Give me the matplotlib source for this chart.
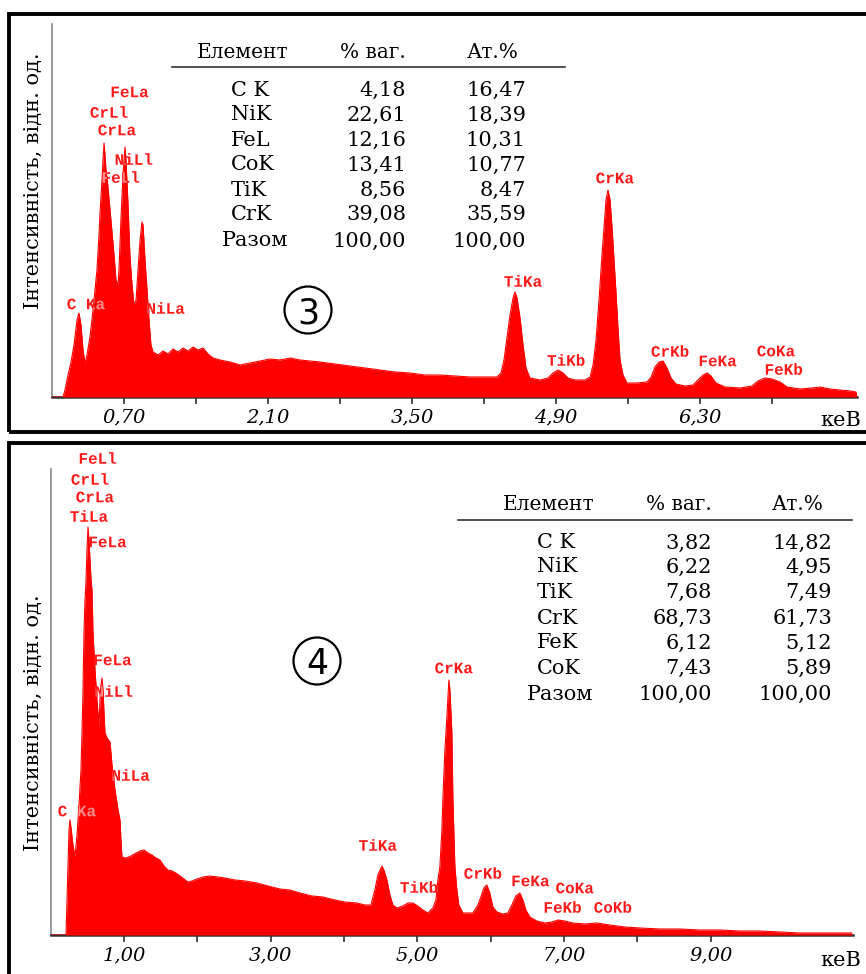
import matplotlib.pyplot as plt
from matplotlib.patches import Rectangle, Circle, PathPatch
from matplotlib.textpath import TextPath
from matplotlib.font_manager import FontProperties
from matplotlib.transforms import Affine2D, IdentityTransform

# spectrum 3: energy (keV) and intensity (arb. units)
energy3 = [0.000, 0.107, 0.126, 0.156, 0.185, 0.214, 0.243, 0.262, 0.282, 0.301,
           0.321, 0.340, 0.369, 0.399, 0.418, 0.437, 0.457, 0.467, 0.486, 0.496,
           0.506, 0.515, 0.525, 0.544, 0.564, 0.583, 0.603, 0.622, 0.642, 0.651,
           0.670, 0.690, 0.710, 0.719, 0.739, 0.758, 0.778, 0.797, 0.817, 0.836,
           0.856, 0.875, 0.885, 0.904, 0.924, 0.943, 0.962, 0.982, 1.031, 1.079,
           1.128, 1.176, 1.225, 1.274, 1.322, 1.371, 1.419, 1.468, 1.517, 1.565,
           1.633, 1.731, 1.828, 1.925, 2.022, 2.119, 2.217, 2.314, 2.411, 2.508,
           2.605, 2.751, 2.897, 3.043, 3.189, 3.335, 3.480, 3.626, 3.772, 3.918,
           4.064, 4.210, 4.326, 4.365, 4.394, 4.423, 4.453, 4.482, 4.501, 4.521,
           4.550, 4.579, 4.608, 4.647, 4.744, 4.822, 4.870, 4.919, 4.968, 5.016,
           5.085, 5.182, 5.231, 5.260, 5.289, 5.318, 5.347, 5.367, 5.386, 5.405,
           5.425, 5.444, 5.464, 5.483, 5.503, 5.522, 5.551, 5.590, 5.688, 5.785,
           5.824, 5.862, 5.901, 5.940, 5.979, 6.018, 6.066, 6.154, 6.232, 6.280,
           6.329, 6.368, 6.407, 6.455, 6.543, 6.689, 6.805, 6.864, 6.932, 7.000,
           7.078, 7.146, 7.272, 7.389, 7.467, 7.564, 7.661, 7.758, 7.816, 7.826]
counts3 = [0, 0, 7, 22, 35, 52, 77, 84, 72, 47,
           34, 42, 60, 87, 107, 127, 162, 184, 217, 237,
           254, 242, 227, 210, 187, 165, 142, 117, 112, 127,
           177, 222, 250, 237, 192, 140, 112, 92, 97, 127,
           157, 175, 172, 137, 107, 77, 52, 45, 42, 46,
           43, 48, 45, 49, 46, 50, 47, 49, 43, 39,
           37, 35, 32, 34, 36, 38, 37, 39, 37, 36,
           35, 33, 31, 29, 27, 25, 24, 22, 22, 21,
           20, 20, 20, 24, 37, 59, 82, 99, 105, 99,
           79, 52, 29, 19, 17, 19, 24, 27, 24, 19,
           17, 17, 20, 32, 57, 97, 142, 170, 197, 207,
           197, 170, 137, 104, 67, 37, 22, 14, 14, 15,
           20, 30, 35, 36, 29, 19, 13, 11, 12, 17,
           22, 24, 21, 14, 10, 9, 11, 16, 19, 18,
           15, 10, 8, 9, 10, 8, 7, 6, 5, 0]

# spectrum 4
energy4 = [0.005, 0.210, 0.224, 0.237, 0.251, 0.264, 0.278, 0.305, 0.332, 0.360,
           0.387, 0.414, 0.428, 0.442, 0.455, 0.469, 0.482, 0.496, 0.510, 0.523,
           0.537, 0.551, 0.564, 0.578, 0.605, 0.632, 0.660, 0.673, 0.687, 0.701,
           0.714, 0.741, 0.769, 0.810, 0.837, 0.878, 0.919, 0.946, 0.959, 0.973,
           1.028, 1.096, 1.164, 1.218, 1.273, 1.327, 1.382, 1.436, 1.491, 1.546,
           1.600, 1.655, 1.709, 1.764, 1.818, 1.873, 1.927, 1.995, 2.077, 2.172,
           2.281, 2.377, 2.513, 2.649, 2.813, 2.963, 3.126, 3.263, 3.399, 3.563,
           3.713, 3.876, 4.012, 4.176, 4.285, 4.367, 4.421, 4.462, 4.517, 4.544,
           4.585, 4.626, 4.667, 4.721, 4.803, 4.871, 4.939, 5.007, 5.075, 5.144,
           5.212, 5.253, 5.280, 5.307, 5.335, 5.348, 5.376, 5.403, 5.430, 5.444,
           5.471, 5.485, 5.512, 5.539, 5.566, 5.621, 5.757, 5.825, 5.866, 5.907,
           5.948, 5.989, 6.030, 6.085, 6.166, 6.234, 6.289, 6.343, 6.398, 6.439,
           6.480, 6.534, 6.630, 6.739, 6.834, 6.916, 7.011, 7.120, 7.283, 7.447,
           7.624, 7.828, 8.033, 8.306, 8.578, 8.851, 9.123, 9.396, 9.668, 9.941,
           10.213, 10.622, 10.922]
counts4 = [0, 0, 35, 68, 105, 115, 107, 90, 78, 100,
           130, 165, 202, 245, 302, 335, 352, 385, 408, 395,
           375, 355, 345, 302, 265, 235, 208, 235, 250, 257,
           245, 202, 197, 193, 170, 145, 125, 115, 95, 78,
           77, 79, 82, 84, 85, 82, 80, 77, 75, 69,
           65, 64, 62, 59, 56, 53, 54, 56, 58, 59,
           58, 57, 55, 54, 52, 49, 46, 45, 42, 39,
           38, 35, 33, 32, 30, 30, 45, 60, 69, 65,
           55, 40, 30, 27, 29, 32, 32, 29, 25, 22,
           27, 35, 55, 68, 105, 135, 185, 218, 255, 245,
           202, 135, 68, 45, 30, 22, 22, 30, 38, 47,
           50, 42, 28, 23, 21, 22, 30, 39, 42, 35,
           25, 18, 14, 12, 13, 15, 14, 12, 11, 12,
           10, 8, 7, 6, 6, 5, 5, 4, 4, 3,
           2, 2, 2]

# line markers: (text, keV, intensity)
peaks3 = [('FeLa', 0.758, 305), ('CrLl', 0.554, 285), ('CrLa', 0.632, 267),
          ('NiLl', 0.797, 238), ('FeLl', 0.671, 220), ('C Ka', 0.331, 93),
          ('NiLa', 1.108, 89), ('TiKa', 4.579, 116), ('TiKb', 4.997, 37),
          ('CrKa', 5.473, 219), ('CrKb', 6.008, 46), ('FeKa', 6.475, 36),
          ('CoKa', 7.039, 46), ('FeKb', 7.116, 28)]
peaks4 = [('FeLl', 0.646, 477), ('CrLl', 0.537, 456), ('CrLa', 0.605, 438),
          ('TiLa', 0.523, 419), ('FeLa', 0.782, 393), ('FeLa', 0.850, 275),
          ('NiLl', 0.864, 244), ('NiLa', 1.096, 160), ('C Ka', 0.360, 124),
          ('TiKa', 4.462, 90), ('TiKb', 5.021, 48), ('CrKa', 5.498, 267),
          ('CrKb', 5.893, 62), ('FeKa', 6.547, 54), ('CoKa', 7.147, 47),
          ('FeKb', 6.984, 28), ('CoKb', 7.665, 28)]

ticks3 = [0.70, 1.40, 2.10, 2.80, 3.50, 4.20, 4.90, 5.60, 6.30, 7.00]
labeled3 = [0.70, 2.10, 3.50, 4.90, 6.30]
ticks4 = [1.0, 2.0, 3.0, 4.0, 5.0, 6.0, 7.0, 8.0, 9.0]
labeled4 = [1.0, 3.0, 5.0, 7.0, 9.0]

headers = ['Елемент', '% ваг.', 'Ат.%']
elements3 = ['C K', 'NiK', 'FeL', 'CoK', 'TiK', 'CrK', 'Разом']
wt3 = ['4,18', '22,61', '12,16', '13,41', '8,56', '39,08', '100,00']
at3 = ['16,47', '18,39', '10,31', '10,77', '8,47', '35,59', '100,00']
elements4 = ['C K', 'NiK', 'TiK', 'CrK', 'FeK', 'CoK', 'Разом']
wt4 = ['3,82', '6,22', '7,68', '68,73', '6,12', '7,43', '100,00']
at4 = ['14,82', '4,95', '7,49', '61,73', '5,12', '5,89', '100,00']

W, H = 866, 974
RED = '#ff0000'
SERIF = 'DejaVu Serif'
MONO = FontProperties(family='Liberation Mono', weight='bold')


def fx(x):
    return x / W


def fy(y):
    return 1 - y / H


fig = plt.figure(figsize=(W / 100, H / 100), dpi=100)


def spectrum(left, right, top, bottom, energy, counts, xmax, ymax, ticks, labeled, peaks):
    ax = fig.add_axes([fx(left), fy(bottom), (right - left) / W, (bottom - top) / H])
    poly = ax.fill_between(energy, counts, color=RED, lw=0, zorder=3)
    ax.plot(energy, counts, color=RED, lw=0.8, zorder=3)
    ax.set_xlim(0, xmax)
    ax.set_ylim(0, ymax)
    fill_path = poly.get_paths()[0]
    for name, e, c in peaks:
        tp = TextPath((0, 0), name, size=11.5, prop=MONO)
        bb = tp.get_extents()
        px, py = ax.transData.transform((e, c))
        tr = (Affine2D().translate(-(bb.x0 + bb.x1) / 2, -(bb.y0 + bb.y1) / 2)
              .scale(fig.dpi / 72).translate(px, py))
        ax.add_artist(PathPatch(tp, transform=tr, fc='#ff1a1a', lw=0, zorder=1, clip_on=False))
        # part of a label covered by the spectrum shows through pale
        over = PathPatch(tp, transform=tr, fc='#ff8c8c', lw=0, zorder=4)
        ax.add_artist(over)
        over.set_clip_path(fill_path, ax.transData)
    ax.set_xticks(labeled)
    ax.set_xticklabels([f'{v:.2f}'.replace('.', ',') for v in labeled],
                       family=SERIF, style='italic', fontsize=14)
    ax.set_xticks([t for t in ticks if t not in labeled], minor=True)
    ax.tick_params(axis='x', which='both', direction='out', length=5, width=1.2,
                   color='#333333', pad=3)
    ax.set_yticks([])
    for s in ['top', 'right']:
        ax.spines[s].set_visible(False)
    ax.spines['left'].set_color('#888888')
    ax.spines['left'].set_linewidth(1.2)
    ax.spines['bottom'].set_color('#333333')
    ax.spines['bottom'].set_linewidth(1.8)
    return ax


spectrum(52, 857, 24, 397, energy3, counts3, 7.826, 373, ticks3, labeled3, peaks3)
spectrum(50.6, 853, 469, 935, energy4, counts4, 10.94, 466, ticks4, labeled4, peaks4)

# frames
fig.patches.append(Rectangle((fx(9), fy(432)), 1.0, fy(14) - fy(432), fill=False,
                             lw=2.8, ec='black', transform=fig.transFigure))
fig.patches.append(Rectangle((fx(9), -0.05), 1.0, fy(443) + 0.05, fill=False,
                             lw=2.8, ec='black', transform=fig.transFigure))


def table(hx, line, rows_y, elements, wt, at, el_left, tot_left, wt_right, at_right):
    hy = rows_y[0] - 38
    for h, x in zip(headers, hx):
        fig.text(fx(x), fy(hy), h, ha='center', va='center', family=SERIF, fontsize=14.5)
    fig.add_artist(plt.Line2D([fx(line[0]), fx(line[1])], [fy(hy + 15), fy(hy + 15)],
                              color='#333333', lw=1.2))
    for i, y in enumerate(rows_y):
        left = tot_left if i == len(elements) - 1 else el_left
        fig.text(fx(left), fy(y), elements[i], ha='left', va='center', family=SERIF, fontsize=15)
        fig.text(fx(wt_right), fy(y), wt[i], ha='right', va='center', family=SERIF, fontsize=15)
        fig.text(fx(at_right), fy(y), at[i], ha='right', va='center', family=SERIF, fontsize=15)


table([243, 373, 493], (172, 565), [90, 115, 140, 165, 190, 214, 241],
      elements3, wt3, at3, 231, 222, 406, 526)
table([549, 679, 798], (458, 852), [543, 567, 592, 618, 643, 668, 694],
      elements4, wt4, at4, 537, 527, 712, 832)

# axis titles
for yc in [181, 723]:
    fig.text(fx(33), fy(yc), 'Інтенсивність, відн. од.', rotation=90, ha='center',
             va='center', family=SERIF, fontsize=15)
fig.text(fx(861), fy(421), 'кеВ', ha='right', va='center', family=SERIF, fontsize=15)
fig.text(fx(861), fy(960), 'кеВ', ha='right', va='center', family=SERIF, fontsize=15)

# circled sample numbers
for num, cx, cy in [('3', 308, 310), ('4', 317, 661)]:
    fig.patches.append(Circle((cx / 100, (H - cy) / 100), 0.235, fill=False, lw=1.6,
                              ec='black', transform=fig.dpi_scale_trans))
    fig.text(fx(cx), fy(cy), num, ha='center', va='center_baseline', family='DejaVu Sans',
             fontsize=25)

fig.savefig('out.png', dpi=100)
